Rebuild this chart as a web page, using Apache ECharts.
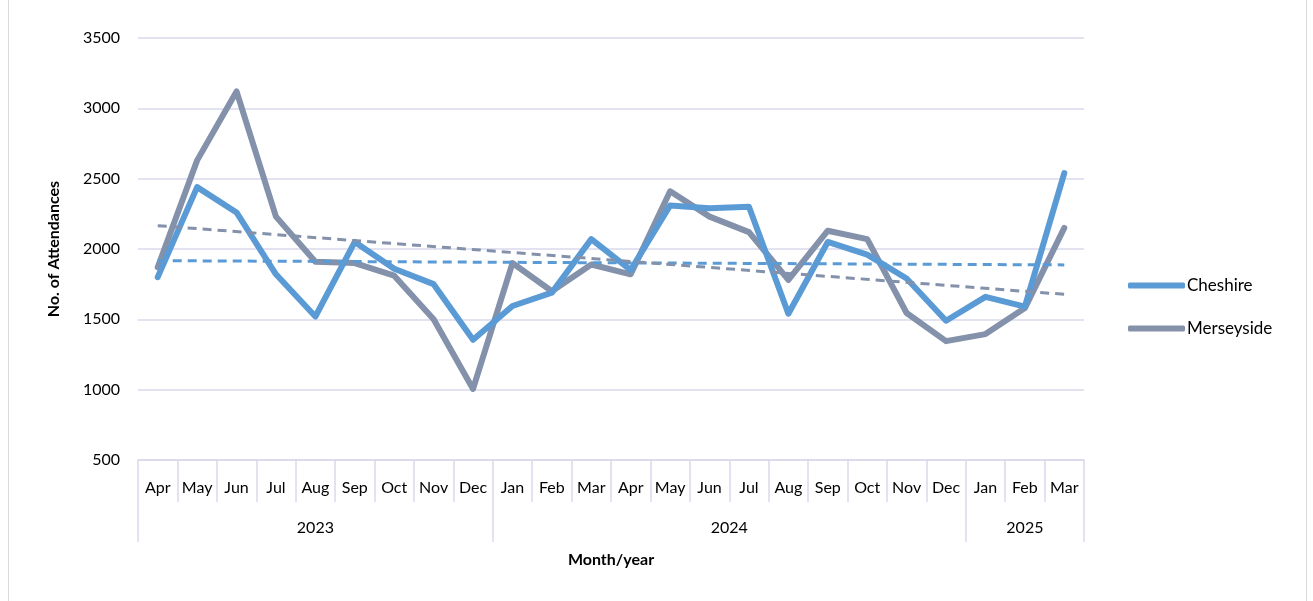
<!DOCTYPE html>
<html lang="en">
<head>
    <meta charset="UTF-8">
    <title>Attendances</title>
    <style>
        html, body { margin: 0; padding: 0; background: #fff; }
        .frame { position: absolute; left: 8px; top: -1px; width: 1297px; height: 620px; border: 1px solid #d9d9d9; }
        #chart { position: absolute; left: 0; top: 0; width: 1313px; height: 601px; }
    </style>
</head>
<body>
    <div class="frame"></div>
    <div id="chart"></div>
    <script src="https://cdn.jsdelivr.net/npm/echarts@6/dist/echarts.min.js"></script>
    <script>
        var months = ['Apr', 'May', 'Jun', 'Jul', 'Aug', 'Sep', 'Oct', 'Nov', 'Dec',
            'Jan', 'Feb', 'Mar', 'Apr', 'May', 'Jun', 'Jul', 'Aug', 'Sep', 'Oct', 'Nov', 'Dec',
            'Jan', 'Feb', 'Mar'];
        // year groups: label and number of months in each
        var years = ['2023', '2024', '2025'];
        var yearSpans = [9, 12, 3];

        var cheshire = [1800, 2440, 2260, 1820, 1520, 2050, 1860, 1750, 1355,
            1595, 1690, 2070, 1850, 2310, 2290, 2300, 1540, 2050, 1960, 1790, 1490,
            1660, 1590, 2540];
        var merseyside = [1870, 2630, 3120, 2230, 1910, 1900, 1810, 1500, 1005,
            1900, 1700, 1890, 1820, 2410, 2230, 2120, 1780, 2130, 2070, 1545, 1345,
            1395, 1580, 2150];
        // trendline ends (first and last month)
        var cheshireTrend = [1917, 1887];
        var merseysideTrend = [2166, 1678];

        var FONT = 'Lato, "Liberation Sans", sans-serif';
        var GRIDC = '#d9d9eb';

        function trendData(ends) {
            var d = months.map(function() { return null; });
            d[0] = ends[0];
            d[d.length - 1] = ends[1];
            return d;
        }

        // year axis: half-month steps, no boundary gap, so index i sits at i/2 months
        var yearCats = [];
        for (var i = 0; i <= months.length * 2; i++) yearCats.push(String(i));
        var yearLabelAt = {}, yearTickAt = { 0: true };
        var acc = 0;
        yearSpans.forEach(function(n, k) {
            yearLabelAt[acc * 2 + n] = years[k];
            acc += n;
            yearTickAt[acc * 2] = true;
        });

        var chart = echarts.init(document.getElementById('chart'));
        chart.setOption({
            animation: false,
            grid: { left: 138, right: 229, top: 38, bottom: 141 },
            legend: {
                orient: 'vertical',
                left: 1123,
                top: 272,
                icon: 'roundRect',
                itemWidth: 57,
                itemHeight: 6,
                itemGap: 26,
                data: ['Cheshire', 'Merseyside'],
                textStyle: { fontFamily: FONT, fontSize: 17, color: '#000', padding: [0, 0, 0, -3] }
            },
            xAxis: [{
                type: 'category',
                data: months,
                boundaryGap: true,
                position: 'bottom',
                axisLine: { show: true, lineStyle: { color: GRIDC, width: 1.5 } },
                axisTick: { show: true, interval: 0, length: 42, lineStyle: { color: GRIDC, width: 1.5 } },
                axisLabel: { interval: 0, margin: 20, fontFamily: FONT, fontSize: 16, color: '#000' },
                name: 'Month/year',
                nameLocation: 'middle',
                nameGap: 92,
                nameTextStyle: { fontFamily: FONT, fontSize: 16, fontWeight: 'bold', color: '#000' }
            }, {
                type: 'category',
                data: yearCats,
                boundaryGap: false,
                position: 'bottom',
                axisLine: { show: false },
                axisTick: {
                    show: true,
                    length: 82,
                    interval: function(idx) { return !!yearTickAt[idx]; },
                    lineStyle: { color: GRIDC, width: 1.5 }
                },
                axisLabel: {
                    interval: 0,
                    margin: 60,
                    fontFamily: FONT, fontSize: 16, color: '#000',
                    formatter: function(v, idx) { return yearLabelAt[idx] || ''; }
                },
                splitLine: { show: false }
            }],
            yAxis: {
                type: 'value',
                min: 500,
                max: 3500,
                interval: 500,
                axisLine: { show: false },
                axisTick: { show: false },
                splitLine: { lineStyle: { color: GRIDC, width: 1.5 } },
                axisLabel: {
                    margin: 18, fontFamily: FONT, fontSize: 16, color: '#000',
                    formatter: function(v) { return String(v); }
                },
                name: 'No. of Attendances',
                nameLocation: 'middle',
                nameGap: 76,
                nameRotate: 90,
                nameTextStyle: { fontFamily: FONT, fontSize: 16, fontWeight: 'bold', color: '#000' }
            },
            series: [{
                name: 'Cheshire',
                type: 'line',
                data: cheshire,
                symbol: 'none',
                color: '#5b9bd5',
                lineStyle: { width: 6, color: '#5b9bd5', cap: 'round', join: 'round' },
                z: 3
            }, {
                name: 'Merseyside',
                type: 'line',
                data: merseyside,
                symbol: 'none',
                color: '#8391aa',
                lineStyle: { width: 6, color: '#8391aa', cap: 'round', join: 'round' },
                z: 2
            }, {
                name: 'Cheshire trend',
                type: 'line',
                data: trendData(cheshireTrend),
                connectNulls: true,
                symbol: 'none',
                lineStyle: { width: 3, color: '#5b9bd5', type: [9, 6] },
                z: 4
            }, {
                name: 'Merseyside trend',
                type: 'line',
                data: trendData(merseysideTrend),
                connectNulls: true,
                symbol: 'none',
                lineStyle: { width: 3, color: '#8391aa', type: [9, 6] },
                z: 4
            }]
        });
    </script>
</body>
</html>
